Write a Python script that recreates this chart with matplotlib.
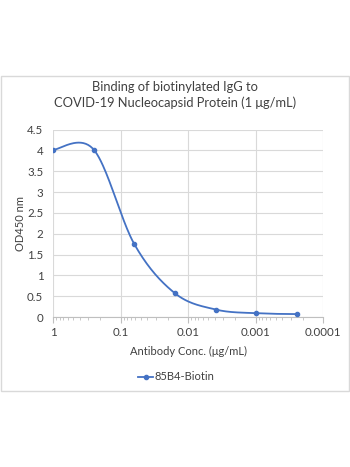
import numpy as np
import matplotlib
matplotlib.use("Agg")
import matplotlib.pyplot as plt
from matplotlib.patches import Rectangle
from matplotlib.ticker import LogLocator, FixedLocator, NullFormatter

conc = [1, 0.25, 0.0625, 0.015625, 0.00390625, 0.0009765625, 0.000244140625]
od450 = [4.01, 4.02, 1.75, 0.57, 0.18, 0.09, 0.07]
series_name = "85B4-Biotin"
x_ticks = [1, 0.1, 0.01, 0.001, 0.0001]
x_tick_labels = ["1", "0.1", "0.01", "0.001", "0.0001"]
y_ticks = [0, 0.5, 1, 1.5, 2, 2.5, 3, 3.5, 4, 4.5]
y_tick_labels = ["0", "0.5", "1", "1.5", "2", "2.5", "3", "3.5", "4", "4.5"]

plt.rcParams['font.family'] = ['Lato', 'DejaVu Sans']
W, H = 350, 467
fig = plt.figure(figsize=(W / 100, H / 100), dpi=100)
fig.patch.set_facecolor("white")

# outer chart border
fig.patches.append(Rectangle((1 / W, 1 - 391 / H), 348 / W, 315 / H,
                             transform=fig.transFigure, fill=False,
                             edgecolor="#d9d9d9", linewidth=1))

left, right, top, bottom = 53, 323, 129.5, 317
ax = fig.add_axes([left / W, 1 - bottom / H, (right - left) / W, (bottom - top) / H])

# smoothed line (Excel-style Catmull-Rom Bezier in log-x space)
lx = np.log10(np.array(conc))
ly = np.array(od450)
pts = np.column_stack([lx, ly])
n = len(pts)
curve = []
t = np.linspace(0, 1, 40)
for i in range(n - 1):
    p0 = pts[i - 1] if i > 0 else pts[i]
    p1 = pts[i]
    p2 = pts[i + 1]
    p3 = pts[i + 2] if i + 2 < n else pts[i + 1]
    c1 = p1 + (p2 - p0) / 6
    c2 = p2 - (p3 - p1) / 6
    seg = ((1 - t) ** 3)[:, None] * p1 + (3 * (1 - t) ** 2 * t)[:, None] * c1 + \
          (3 * (1 - t) * t ** 2)[:, None] * c2 + (t ** 3)[:, None] * p2
    curve.append(seg)
curve = np.vstack(curve)
color = "#4472c4"
ax.plot(10 ** curve[:, 0], curve[:, 1], color=color, linewidth=1.3, zorder=3)
ax.plot(conc, od450, linestyle="none", marker="o", markersize=3, color=color, zorder=4)
ax.plot([], [], color=color, linewidth=1.3, marker="o", markersize=3, label=series_name)

ax.set_xscale("log")
ax.set_xlim(1, 0.0001)
ax.set_ylim(0, 4.5)
ax.xaxis.set_major_locator(FixedLocator(x_ticks))
ax.set_xticklabels(x_tick_labels)
ax.xaxis.set_minor_locator(LogLocator(base=10, subs=np.arange(2, 10)))
ax.xaxis.set_minor_formatter(NullFormatter())
ax.set_yticks(y_ticks)
ax.set_yticklabels(y_tick_labels)

ax.grid(True, which="major", color="#d9d9d9", linewidth=0.8)
ax.set_axisbelow(True)
for s in ["top", "right", "left"]:
    ax.spines[s].set_visible(False)
ax.spines["bottom"].set_color("#bfbfbf")
ax.tick_params(axis="y", length=0, labelsize=8.3, colors="#404040", pad=7)
ax.tick_params(axis="x", which="major", length=4, color="#bfbfbf", labelsize=8.3,
               labelcolor="#404040", pad=3, direction="out")
ax.tick_params(axis="x", which="minor", length=2.5, color="#bfbfbf", direction="out")

ax.set_xlabel("Antibody Conc. (μg/mL)", fontsize=8, color="#404040", labelpad=6)
ax.set_ylabel("OD450 nm", fontsize=8, color="#404040", labelpad=1)

fig.text(175 / W, 1 - 95 / H, "Binding of biotinylated IgG to\nCOVID-19 Nucleocapsid Protein (1 μg/mL)",
         ha="center", va="center", fontsize=9.3, color="#404040", linespacing=1.4)

leg = fig.legend(loc="center", bbox_to_anchor=(176 / W, 1 - 377 / H), frameon=False,
                 fontsize=8, handlelength=1.4, handletextpad=0.1)
for txt in leg.get_texts():
    txt.set_color("#404040")

fig.savefig("out.png", dpi=100, facecolor="white")
